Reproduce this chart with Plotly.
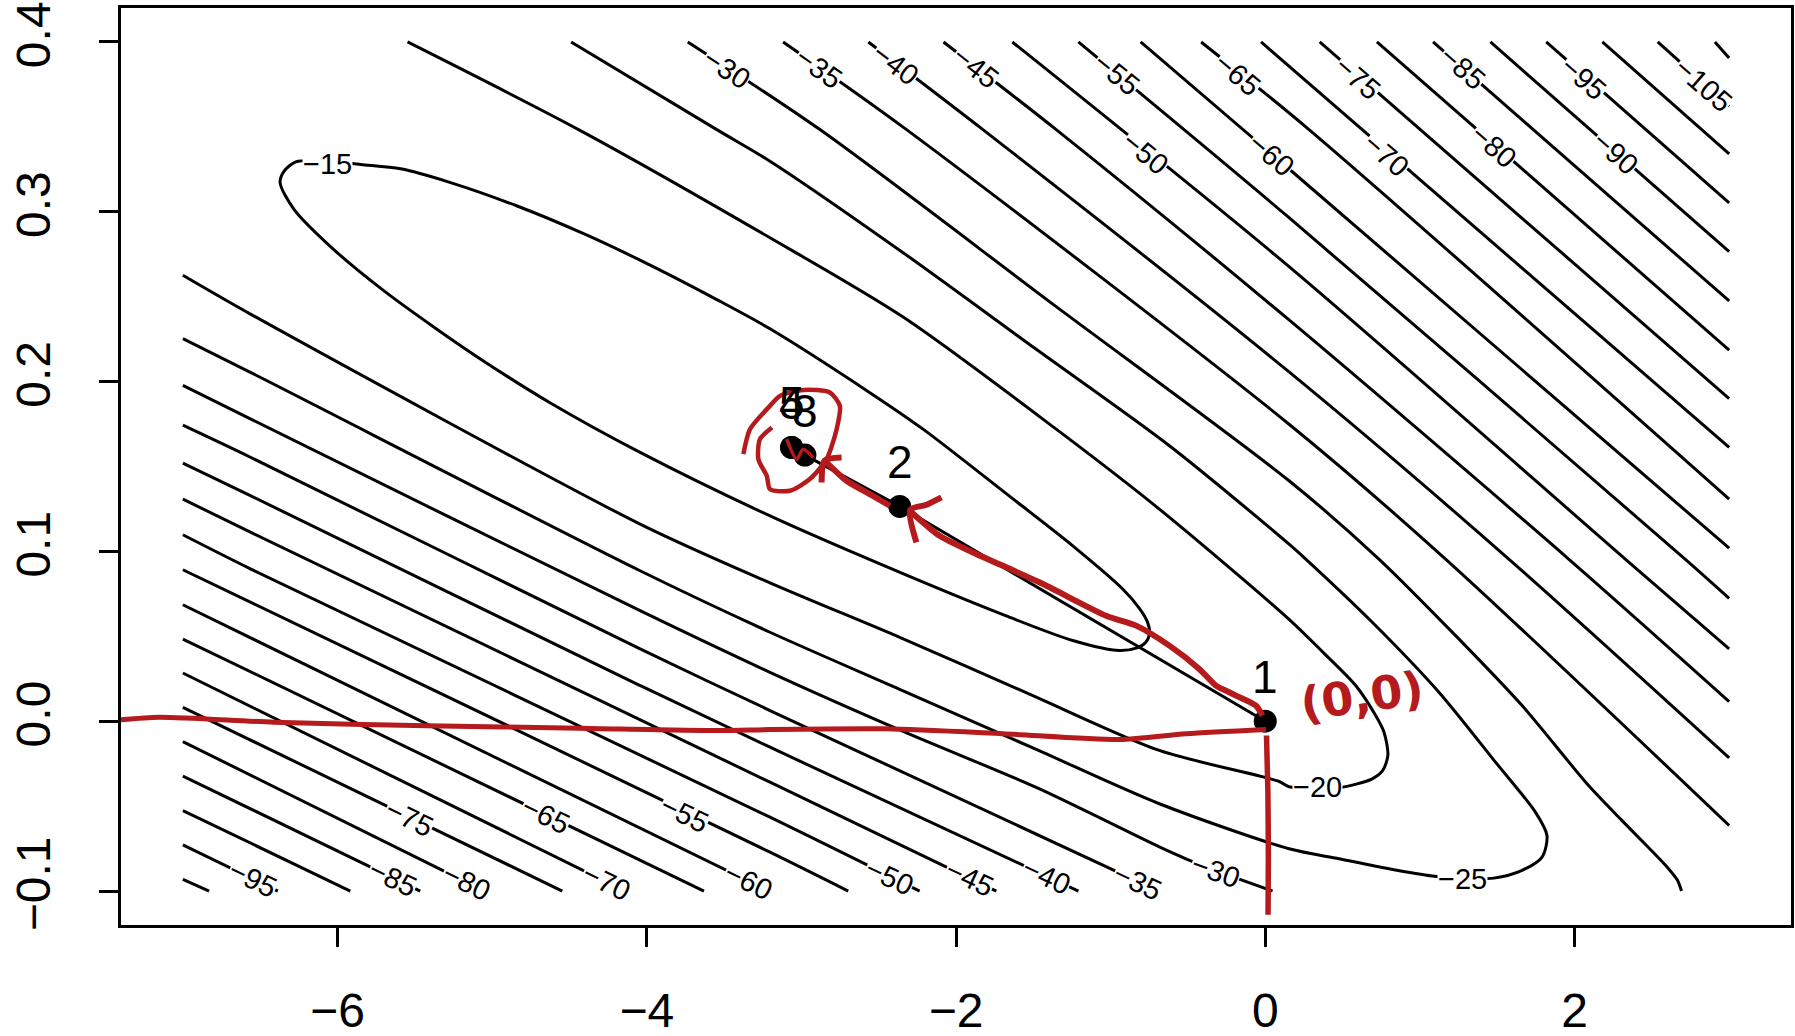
import plotly.graph_objects as go

# ---------------- axis ticks ----------------
x_ticks = [-6, -4, -2, 0, 2]
y_ticks = [-0.1, 0.0, 0.1, 0.2, 0.3, 0.4]
y_tick_text = ["\u22120.1", "0.0", "0.1", "0.2", "0.3", "0.4"]

# ---------------- contour paths ----------------
c15_x = [-5.850, -5.592, -5.269, -4.838, -4.408, -3.978, -3.547, -3.203, -2.557, -2.213, -1.675, -1.245, -0.922,
         -0.814, -0.762, -0.748, -0.775, -0.830, -0.943, -1.245, -1.675, -2.320, -3.181, -4.043, -4.623, -5.054,
         -5.355, -5.699, -6.022, -6.280, -6.371, -6.345, -6.270, -6.065, -5.850]
c15_y = [0.3279, 0.3253, 0.3172, 0.3034, 0.2871, 0.2686, 0.2483, 0.2311, 0.1935, 0.1720, 0.1340, 0.1033, 0.0779,
         0.0665, 0.0585, 0.0520, 0.0462, 0.0432, 0.0416, 0.0475, 0.0620, 0.0860, 0.1200, 0.1583, 0.1874, 0.2120,
         0.2307, 0.2534, 0.2776, 0.3013, 0.3171, 0.3239, 0.3294, 0.3300, 0.3279]

c20_x = [-7.000, -6.560, -4.043, -3.203, -2.364, -1.525, -0.685, 0.090, 0.154, 0.337, 0.488, 0.692, 0.760, 0.793,
         0.768, 0.714, 0.585, 0.369, 0.154, -0.685, -1.352, -2.342, -3.203, -4.441, -5.547]
c20_y = [0.2626, 0.2396, 0.1161, 0.0815, 0.0494, 0.0160, -0.0172, -0.0355, -0.0386, -0.0392, -0.0390, -0.0339,
         -0.0290, -0.0200, -0.0065, 0.0033, 0.0210, 0.0410, 0.0600, 0.1249, 0.1720, 0.2380, 0.2847, 0.3484, 0.4000]

c25_x = [-7.000, -6.560, -4.043, -3.203, -2.342, -1.481, -0.685, 0.154, 0.477, 0.800, 1.080, 1.278, 1.478, 1.661,
         1.790, 1.822, 1.747, 1.489, 1.123, 0.692, 0.262, 0.154, -0.620, -1.481, -2.342, -3.203, -3.547, -4.489]
c25_y = [0.2253, 0.2053, 0.0886, 0.0524, 0.0179, -0.0166, -0.0486, -0.0751, -0.0810, -0.0869, -0.0912, -0.0927,
         -0.0924, -0.0878, -0.0800, -0.0673, -0.0535, -0.0241, 0.0171, 0.0583, 0.0955, 0.1043, 0.1622, 0.2190,
         0.2759, 0.3298, 0.3484, 0.4000]

c30a_x = [-7.000, -6.560, -4.043, -3.203, -2.342, -1.481, -0.685, -0.513, -0.319, 0.047]
c30a_y = [0.1978, 0.1779, 0.0651, 0.0288, -0.0060, -0.0390, -0.0740, -0.0810, -0.0880, -0.1000]
c30b_x = [-3.735, -2.880, -1.363, 0.154, 0.735, 1.231, 1.661, 2.091, 2.306, 2.480, 2.600, 2.665, 2.692]
c30b_y = [0.4000, 0.3484, 0.2449, 0.1416, 0.0955, 0.0504, 0.0092, -0.0379, -0.0584, -0.0745, -0.0860, -0.0935,
          -0.1000]

c35a_x = [-7.000, -6.560, -4.043, -3.203, -0.689]
c35a_y = [0.1743, 0.1553, 0.0426, 0.0063, -0.1000]
c35b_x = [-3.118, -2.320, 0.154, 1.166, 3.000]
c35b_y = [0.4000, 0.3484, 0.1749, 0.0955, -0.0614]

c40a_x = [-7.000, -6.560, -4.043, -3.203, -1.208]
c40a_y = [0.1520, 0.1327, 0.0210, -0.0153, -0.1000]
c40b_x = [-2.567, -1.826, 0.154, 1.575, 3.000]
c40b_y = [0.4000, 0.3484, 0.2057, 0.0955, -0.0216]

c45a_x = [-7.000, -6.560, -3.203, -1.739]
c45a_y = [0.1308, 0.1112, -0.0359, -0.1000]
c45b_x = [-2.081, -1.352, 0.154, 1.962, 3.000]
c45b_y = [0.4000, 0.3484, 0.2363, 0.0955, 0.0116]

c50a_x = [-7.000, -6.560, -3.203, -2.235]
c50a_y = [0.1098, 0.0896, -0.0565, -0.1000]
c50b_x = [-1.636, 0.154, 2.328, 3.000]
c50b_y = [0.4000, 0.2677, 0.0955, 0.0426]

c55a_x = [-7.000, -6.560, -3.203, -2.697]
c55a_y = [0.0892, 0.0700, -0.0771, -0.1000]
c55b_x = [-1.209, 0.154, 2.715, 3.000]
c55b_y = [0.4000, 0.2965, 0.0955, 0.0724]

c60a_x = [-7.000, -3.210]
c60a_y = [0.0686, -0.1000]
c60b_x = [-0.806, 0.158, 3.000]
c60b_y = [0.4000, 0.3249, 0.1019]

c65a_x = [-7.000, -3.630]
c65a_y = [0.0484, -0.1000]
c65b_x = [-0.415, 0.283, 3.000]
c65b_y = [0.4000, 0.3484, 0.1308]

c70a_x = [-7.000, -4.140]
c70a_y = [0.0284, -0.1000]
c70b_x = [-0.027, 3.000]
c70b_y = [0.4000, 0.1612]

c75a_x = [-7.000, -4.546]
c75a_y = [0.0082, -0.1000]
c75b_x = [0.352, 3.000]
c75b_y = [0.4000, 0.1900]

c80a_x = [-7.000, -5.050]
c80a_y = [-0.0120, -0.1000]
c80b_x = [0.722, 3.000]
c80b_y = [0.4000, 0.2186]

c85a_x = [-7.000, -5.465]
c85a_y = [-0.0323, -0.1000]
c85b_x = [1.085, 3.000]
c85b_y = [0.4000, 0.2475]

c90a_x = [-7.000, -5.917]
c90a_y = [-0.0526, -0.1000]
c90b_x = [1.456, 3.000]
c90b_y = [0.4000, 0.2765]

c95a_x = [-7.000, -6.386]
c95a_y = [-0.0728, -0.1000]
c95b_x = [1.817, 3.000]
c95b_y = [0.4000, 0.3053]

c100a_x = [-7.000, -6.830]
c100a_y = [-0.0932, -0.1000]
c100b_x = [2.180, 3.000]
c100b_y = [0.4000, 0.3341]

c105_x = [2.538, 3.000]
c105_y = [0.4000, 0.3622]

c110_x = [2.908, 3.000]
c110_y = [0.4000, 0.3906]

# ---------------- contour labels ----------------
lab_text = ["\u221215", "\u221220", "\u221225",
            "\u221230", "\u221235", "\u221240", "\u221245", "\u221255", "\u221265", "\u221275", "\u221285",
            "\u221295", "\u2212105",
            "\u221250", "\u221260", "\u221270", "\u221280", "\u221290",
            "\u221295", "\u221285", "\u221280", "\u221275", "\u221270", "\u221265", "\u221255", "\u221260",
            "\u221250", "\u221245", "\u221240", "\u221235", "\u221230"]
lab_x = [-6.065, 0.337, 1.278,
         -3.481, -2.888, -2.393, -1.875, -0.961, -0.182, 0.598, 1.278, 2.056, 2.835,
         -0.775, 0.043, 0.784, 1.476, 2.266,
         -6.547, -5.645, -5.164, -5.534, -4.262, -4.657, -3.755, -3.345,
         -2.428, -1.912, -1.417, -0.825, -0.319]
lab_y = [0.3279, -0.0390, -0.0927,
         0.3840, 0.3845, 0.3870, 0.3850, 0.3810, 0.3810, 0.3788, 0.3847, 0.3788, 0.3749,
         0.3347, 0.3337, 0.3337, 0.3386, 0.3347,
         -0.0932, -0.0925, -0.0947, -0.0567, -0.0946, -0.0555, -0.0545, -0.0940,
         -0.0915, -0.0924, -0.0912, -0.0947, -0.0884]
lab_angle = [0, 0, 0,
             33, 35, 37, 38, 39, 40, 41, 41, 41, 41,
             39, 40, 41, 41, 41,
             26, 26, 26, 26, 26, 26, 26, 26,
             25, 25, 25, 25, 20]

# ---------------- Newton iterates ----------------
iter_x = [0.0, -2.364, -2.977, -3.063, -3.063]
iter_y = [0.0, 0.1265, 0.1567, 0.1612, 0.1612]
iter_lab = ["1", "2", "3", "4", "5"]

# ---------------- red hand-drawn annotations ----------------
red_h_x = [-7.40, -7.152, -6.411, -5.424, -4.435, -3.526, -3.203, -2.449, -1.697, -0.943, -0.513, 0.004]
red_h_y = [0.0008, 0.0024, -0.0006, -0.0026, -0.0041, -0.0055, -0.0049, -0.0045, -0.0074, -0.0108, -0.0074, -0.0049]
red_v_x = [0.008, 0.017, 0.020, 0.018]
red_v_y = [-0.0084, -0.0417, -0.0810, -0.1140]
red_p1_x = [-0.018, -0.061, -0.190, -0.254, -0.319, -0.427, -0.620, -0.835, -1.029, -1.460, -1.890, -2.106,
            -2.299]
red_p1_y = [0.0033, 0.0092, 0.0151, 0.0180, 0.0210, 0.0308, 0.0445, 0.0563, 0.0621, 0.0818, 0.0994, 0.1092,
            0.1240]
red_a1_x = [-2.256, -2.296, -2.191, -2.094]
red_a1_y = [0.1053, 0.1245, 0.1275, 0.1318]
red_p2_x = [-2.428, -2.557, -2.708, -2.845]
red_p2_y = [0.1269, 0.1337, 0.1416, 0.1530]
red_a2_x = [-2.869, -2.850, -2.740]
red_a2_y = [0.1406, 0.1535, 0.1553]
red_c_x = [-3.375, -3.332, -3.203, -3.138, -2.988, -2.816, -2.751, -2.772, -2.837, -2.945, -3.074, -3.203,
           -3.224, -3.278, -3.268, -3.190]
red_c_y = [0.1573, 0.1720, 0.1857, 0.1916, 0.1951, 0.1936, 0.1857, 0.1720, 0.1543, 0.1426, 0.1357, 0.1367,
           0.1445, 0.1543, 0.1661, 0.1730]
red_s_x = [-3.095, -3.031, -2.988, -2.923]
red_s_y = [0.1661, 0.1543, 0.1602, 0.1553]
red_text = "(0,0)"
red_text_x = 0.628
red_text_y = 0.0151

# ---------------- build figure ----------------
contours = [
    (c15_x, c15_y), (c20_x, c20_y), (c25_x, c25_y),
    (c30a_x, c30a_y), (c30b_x, c30b_y), (c35a_x, c35a_y), (c35b_x, c35b_y),
    (c40a_x, c40a_y), (c40b_x, c40b_y), (c45a_x, c45a_y), (c45b_x, c45b_y),
    (c50a_x, c50a_y), (c50b_x, c50b_y), (c55a_x, c55a_y), (c55b_x, c55b_y),
    (c60a_x, c60a_y), (c60b_x, c60b_y), (c65a_x, c65a_y), (c65b_x, c65b_y),
    (c70a_x, c70a_y), (c70b_x, c70b_y), (c75a_x, c75a_y), (c75b_x, c75b_y),
    (c80a_x, c80a_y), (c80b_x, c80b_y), (c85a_x, c85a_y), (c85b_x, c85b_y),
    (c90a_x, c90a_y), (c90b_x, c90b_y), (c95a_x, c95a_y), (c95b_x, c95b_y),
    (c100a_x, c100a_y), (c100b_x, c100b_y), (c105_x, c105_y), (c110_x, c110_y),
]

fig = go.Figure()
for cx, cy in contours:
    fig.add_trace(go.Scatter(x=cx, y=cy, mode="lines",
                             line=dict(color="black", width=3.0, shape="spline", smoothing=0.8),
                             hoverinfo="skip"))

# Newton path
fig.add_trace(go.Scatter(x=iter_x, y=iter_y, mode="lines+markers",
                         line=dict(color="black", width=3.0),
                         marker=dict(color="black", size=23), hoverinfo="skip"))

RED = "#B51A1C"
for rx, ry, w in [(red_h_x, red_h_y, 5), (red_v_x, red_v_y, 5.5), (red_p1_x, red_p1_y, 6),
                  (red_a1_x, red_a1_y, 6), (red_p2_x, red_p2_y, 6), (red_a2_x, red_a2_y, 6),
                  (red_c_x, red_c_y, 4.5), (red_s_x, red_s_y, 3.5)]:
    fig.add_trace(go.Scatter(x=rx, y=ry, mode="lines",
                             line=dict(color=RED, width=w, shape="spline", smoothing=0.7),
                             hoverinfo="skip"))

annotations = []
for t, x, y, a in zip(lab_text, lab_x, lab_y, lab_angle):
    annotations.append(dict(x=x, y=y, text=t, showarrow=False, textangle=a,
                            font=dict(family="Liberation Sans, Arial, sans-serif", size=29, color="black"),
                            bgcolor="white", borderpad=0, xanchor="center", yanchor="middle"))
for t, x, y in zip(iter_lab, iter_x, iter_y):
    annotations.append(dict(x=x, y=y, text=t, showarrow=False, yshift=44,
                            font=dict(family="Liberation Sans, Arial, sans-serif", size=46, color="black"),
                            xanchor="center", yanchor="middle"))
annotations.append(dict(x=red_text_x, y=red_text_y, text="<b>" + red_text + "</b>", showarrow=False,
                        textangle=-8,
                        font=dict(family="DejaVu Sans, sans-serif", size=46, color=RED),
                        xanchor="center", yanchor="middle"))

axis_font = dict(family="Liberation Sans, Arial, sans-serif", size=48, color="black")
fig.update_layout(
    width=1795, height=1036,
    margin=dict(l=121, r=4, t=8, b=111),
    plot_bgcolor="white", paper_bgcolor="white",
    showlegend=False,
    annotations=annotations,
    xaxis=dict(range=[-7.4, 3.4], tickvals=x_ticks, ticks="outside", ticklen=19, tickwidth=2.5,
               tickcolor="black", showline=True, mirror=True, linecolor="black", linewidth=3,
               showgrid=False, zeroline=False, tickfont=axis_font, ticklabelstandoff=22, automargin=False),
    yaxis=dict(range=[-0.12, 0.42], tickvals=y_ticks, ticktext=y_tick_text, ticks="outside", ticklen=19,
               tickwidth=2.5, tickcolor="black", showline=True, mirror=True, linecolor="black", linewidth=3,
               showgrid=False, zeroline=False, tickfont=axis_font, tickangle=-90, ticklabelstandoff=30,
               automargin=False),
)

fig.write_html("out.html")
